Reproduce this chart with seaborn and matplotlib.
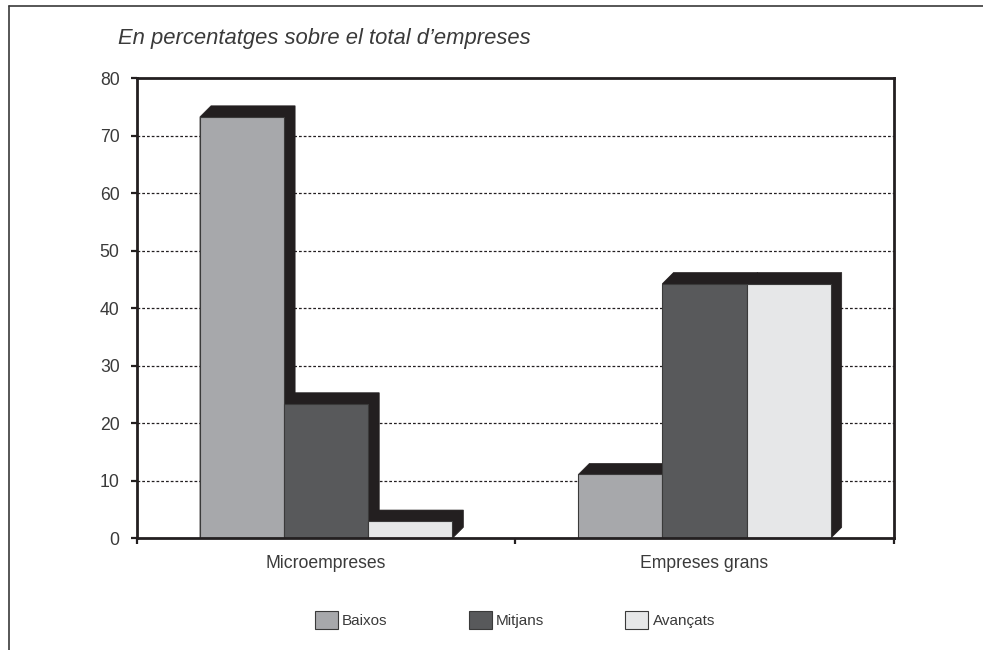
import matplotlib
matplotlib.use("Agg")
import matplotlib.pyplot as plt
import seaborn as sns
import pandas as pd
from matplotlib.patches import Polygon, Patch
from matplotlib.lines import Line2D

categories = ["Microempreses", "Empreses grans"]
levels = ["Baixos", "Mitjans", "Avançats"]
baixos = [73.3, 11.1]
mitjans = [23.4, 44.3]
avancats = [3.0, 44.3]
yticks = [0, 10, 20, 30, 40, 50, 60, 70, 80]
title = "En percentatges sobre el total d\u2019empreses"

colors = ["#a7a8ab", "#58595b", "#e6e7e8"]
shadow_col = "#231f20"
text_col = "#3a3a3a"

df = pd.DataFrame({
    "cat": categories * 3,
    "level": [levels[0]] * 2 + [levels[1]] * 2 + [levels[2]] * 2,
    "value": baixos + mitjans + avancats,
})

sns.set_theme(style="white")
plt.rcParams["font.family"] = ["Liberation Sans", "DejaVu Sans"]

fig = plt.figure(figsize=(9.83, 6.5), dpi=100)
ax = fig.add_axes([137 / 983, 1 - 538.3 / 650, (893.7 - 137) / 983, (538.3 - 78.3) / 650])

sns.barplot(data=df, x="cat", y="value", hue="level", order=categories,
            hue_order=levels, palette=colors, width=0.667, saturation=1,
            edgecolor="#3a3a3a", linewidth=0.8, legend=False, ax=ax)

ax.set_xlim(-0.5, 1.5)
ax.set_ylim(0, 80)

# shadows
px_x = (893.7 - 137) / 2.0
px_y = (538.3 - 78.3) / 80.0
dx = 11 / px_x
dy = 11 / px_y
bars = [p for p in ax.patches]
for p in bars:
    x0 = p.get_x()
    w = p.get_width()
    h = p.get_height()
    poly = Polygon([(x0, 0), (x0, h), (x0 + dx, h + dy), (x0 + w + dx, h + dy),
                    (x0 + w + dx, dy), (x0 + w, 0)], closed=True,
                   facecolor=shadow_col, edgecolor=shadow_col, linewidth=0.5,
                   zorder=1.5, clip_on=False)
    ax.add_patch(poly)
    p.set_zorder(2)

# grid
for v in yticks[1:-1]:
    ax.axhline(v, color="#231f20", linewidth=0.9, linestyle=(0, (2.2, 1.6)), zorder=0.5)

for s in ax.spines.values():
    s.set_visible(True)
    s.set_linewidth(2.0)
    s.set_color(shadow_col)
    s.set_zorder(3)

ax.set_yticks(yticks)
ax.set_yticklabels([str(v) for v in yticks])
ax.set_xticks([-0.5, 0.5, 1.5])
ax.set_xticklabels(["", "", ""])
ax.set_xticks([0, 1], minor=True)
ax.set_xticklabels(categories, minor=True)
ax.tick_params(axis="y", which="major", direction="out", length=4.5, width=1.6,
               color=shadow_col, pad=8, labelsize=12.7, labelcolor=text_col, left=True)
ax.tick_params(axis="x", which="major", direction="out", length=4.5, width=1.6,
               color=shadow_col, bottom=True)
ax.tick_params(axis="x", which="minor", length=0, pad=12, labelsize=12.7,
               labelcolor=text_col, bottom=True)
ax.set_xlabel("")
ax.set_ylabel("")

# legend
handles = [Patch(facecolor=c, edgecolor="#3a3a3a", linewidth=0.8) for c in colors]
fig.legend(handles, levels, loc="center", bbox_to_anchor=(515 / 983, 1 - 620 / 650),
           ncol=3, frameon=False, fontsize=11, handlelength=1.5, handleheight=1.5,
           handletextpad=0.3, columnspacing=5.3, labelcolor=text_col)

# title
fig.text(118 / 983, 1 - 44 / 650, title, fontsize=15.8, style="italic",
         color=text_col, ha="left", va="baseline")

# figure frame (left and top)
fig.add_artist(Line2D([9 / 983, 9 / 983], [0, 1 - 6 / 650], transform=fig.transFigure,
                      color="#3a3a3a", linewidth=1.2))
fig.add_artist(Line2D([9 / 983, 1], [1 - 6 / 650, 1 - 6 / 650], transform=fig.transFigure,
                      color="#3a3a3a", linewidth=1.2))

fig.savefig("out.png", dpi=100, facecolor="white")
